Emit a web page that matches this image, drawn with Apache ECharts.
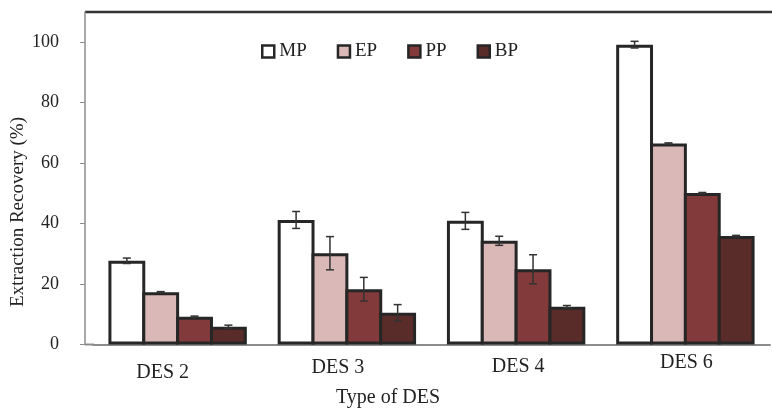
<!DOCTYPE html>
<html>
<head>
<meta charset="utf-8">
<script src="https://cdn.jsdelivr.net/npm/echarts@6/dist/echarts.min.js"></script>
<style>
  html, body { margin: 0; background: #fff; }
  #chart { width: 772px; height: 411px; }
</style>
</head>
<body>
<div id="chart"></div>
<script>
const categories = ['DES 2', 'DES 3', 'DES 4', 'DES 6']
const seriesNames = ['MP', 'EP', 'PP', 'BP']
const mp = [27.7, 41.2, 40.9, 99.2]
const ep = [17.3, 30.2, 34.3, 66.5]
const pp = [9.2, 18.3, 24.9, 50.1]
const bp = [5.9, 10.5, 12.5, 35.9]
const mpErr = [0.9, 2.8, 2.8, 1.1]
const epErr = [0.2, 5.5, 1.5, 0.2]
const ppErr = [0.2, 3.9, 4.8, 0.2]
const bpErr = [0.5, 2.7, 0.4, 0.2]

const values = [mp, ep, pp, bp]
const errors = [mpErr, epErr, ppErr, bpErr]
const colors = ['#ffffff', '#d9b8b7', '#833a3a', '#592b29']
const font = '"Liberation Serif", "Times New Roman", serif'
// the category labels in the original sit a bit off the group centres
const labelDy = [10, 5, 4, 0]
const labelDx = [-15, -9, 2, 1]

// echarts draws the bar border inside the rect, so bars are 3px wider and overlap by 3px
const border = 3
const step = 33.85
const barW = step + border

const errorData = []
values.forEach((vals, s) => {
  vals.forEach((v, i) => {
    errorData.push([i, v - errors[s][i], v + errors[s][i], s])
  })
})

function renderError (params, api) {
  const s = api.value(3)
  const x = api.coord([api.value(0), 0])[0] + (s - 1.5) * step
  const lo = api.coord([api.value(0), api.value(1)])[1]
  const hi = api.coord([api.value(0), api.value(2)])[1]
  const cap = 4
  const style = { stroke: '#333', lineWidth: 1.5 }
  return {
    type: 'group',
    children: [
      { type: 'line', shape: { x1: x, y1: lo, x2: x, y2: hi }, style },
      { type: 'line', shape: { x1: x - cap, y1: lo, x2: x + cap, y2: lo }, style },
      { type: 'line', shape: { x1: x - cap, y1: hi, x2: x + cap, y2: hi }, style }
    ]
  }
}

const labelStyle = i => ({
  fontFamily: font,
  fontSize: 20,
  color: '#222',
  padding: [labelDy[i], labelDx[i] < 0 ? -2 * labelDx[i] : 0, 0, labelDx[i] > 0 ? 2 * labelDx[i] : 0]
})

const chart = echarts.init(document.getElementById('chart'))
chart.setOption({
  animation: false,
  textStyle: { fontFamily: font },
  grid: { left: 93, right: 2, top: 12, bottom: 66.5 },
  legend: {
    data: seriesNames,
    left: 256,
    top: 37,
    itemWidth: 12,
    itemHeight: 12,
    itemGap: 30,
    icon: 'rect',
    itemStyle: { borderColor: '#262626', borderWidth: 2.5 },
    textStyle: { fontFamily: font, fontSize: 19, color: '#222' }
  },
  xAxis: {
    type: 'category',
    data: categories,
    axisLine: { lineStyle: { color: '#8c8c8c', width: 2 } },
    axisTick: { show: false },
    axisLabel: {
      margin: 8,
      formatter: (v, i) => '{l' + i + '|' + v + '}',
      rich: { l0: labelStyle(0), l1: labelStyle(1), l2: labelStyle(2), l3: labelStyle(3) }
    }
  },
  yAxis: {
    type: 'value',
    min: 0,
    max: 110,
    interval: 20,
    offset: 8,
    axisLine: { show: true, lineStyle: { color: '#8c8c8c', width: 1.5 } },
    axisTick: { show: true, length: 5, lineStyle: { color: '#8c8c8c' } },
    splitLine: { show: false },
    axisLabel: {
      showMaxLabel: false,
      margin: 26,
      fontFamily: font,
      fontSize: 18,
      color: '#222'
    }
  },
  graphic: [
    { type: 'line', shape: { x1: 85, y1: 12, x2: 772, y2: 12 }, style: { stroke: '#333', lineWidth: 2.5 } },
    { type: 'line', shape: { x1: 85, y1: 344.5, x2: 94, y2: 344.5 }, style: { stroke: '#8c8c8c', lineWidth: 2 } },
    {
      type: 'text', x: 18, y: 212, rotation: Math.PI / 2,
      style: { text: 'Extraction Recovery (%)', font: '19px ' + font, fill: '#222', align: 'center', verticalAlign: 'middle' }
    },
    {
      type: 'text', x: 388, y: 398,
      style: { text: 'Type of DES', font: '20px ' + font, fill: '#222', align: 'center', verticalAlign: 'middle' }
    }
  ],
  series: seriesNames.map((name, s) => ({
    name,
    type: 'bar',
    data: values[s],
    barWidth: barW,
    barGap: (-border / barW * 100).toFixed(2) + '%',
    itemStyle: { color: colors[s], borderColor: '#262626', borderWidth: border }
  })).concat([{
    type: 'custom',
    data: errorData,
    encode: { x: 0, y: [1, 2] },
    renderItem: renderError,
    z: 5
  }])
})
</script>
</body>
</html>
